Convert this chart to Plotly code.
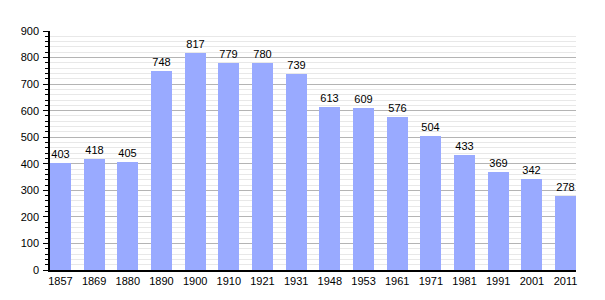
import plotly.graph_objects as go

years = ["1857", "1869", "1880", "1890", "1900", "1910", "1921", "1931",
         "1948", "1953", "1961", "1971", "1981", "1991", "2001", "2011"]
population = [403, 418, 405, 748, 817, 779, 780, 739,
              613, 609, 576, 504, 433, 369, 342, 278]
y_ticks = list(range(0, 901, 100))

positions = list(range(len(years)))

fig = go.Figure()
fig.add_trace(go.Bar(
    x=positions,
    y=population,
    width=0.62,
    marker=dict(color="#99aaff", line=dict(width=0)),
    text=[str(v) for v in population],
    textposition="outside",
    textfont=dict(family="Liberation Sans, Arial, sans-serif", size=11, color="#000000"),
    cliponaxis=False,
))

fig.update_layout(
    width=605,
    height=300,
    margin=dict(l=50, r=29, t=31, b=30),
    paper_bgcolor="#ffffff",
    plot_bgcolor="#ffffff",
    showlegend=False,
    bargap=0,
    font=dict(family="Liberation Sans, Arial, sans-serif", size=11, color="#000000"),
    xaxis=dict(
        tickmode="array",
        tickvals=positions,
        ticktext=years,
        range=[-0.31, len(years) - 1 + 0.31],
        showgrid=False,
        showline=True,
        linecolor="#000000",
        linewidth=1.5,
        ticks="",
        zeroline=False,
        tickfont=dict(size=11),
    ),
    yaxis=dict(
        range=[0, 900],
        tickmode="array",
        tickvals=y_ticks,
        showgrid=True,
        gridcolor="#b4b4b4",
        gridwidth=1,
        showline=True,
        linecolor="#000000",
        linewidth=1.5,
        ticks="outside",
        ticklen=5,
        tickcolor="#000000",
        ticklabelstandoff=2,
        zeroline=False,
        tickfont=dict(size=11),
        minor=dict(
            dtick=20,
            tick0=0,
            showgrid=True,
            gridcolor="#e8e8e8",
            gridwidth=1,
            ticks="outside",
            ticklen=3,
            tickcolor="#000000",
        ),
    ),
)

fig.write_html("out.html")
